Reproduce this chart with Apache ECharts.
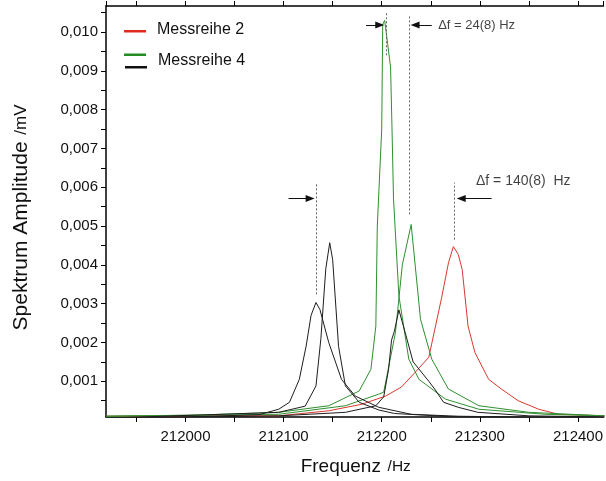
<!DOCTYPE html>
<html>
<head>
<meta charset="utf-8">
<script src="https://cdn.jsdelivr.net/npm/echarts@6/dist/echarts.min.js"></script>
<style>
html,body{margin:0;padding:0;background:#fff;}
#c{width:606px;height:481px;}
</style>
</head>
<body>
<div id="c"></div>
<script>
// ---- data (Frequenz /Hz, Spektrum Amplitude /mV) ----
const messreihe2 = [
  [211919,0.00010],[212014,0.00011],[212095,0.00011],[212146,0.00024],[212180,0.00041],
  [212204,0.00062],[212220,0.00085],[212234,0.00123],[212248,0.00162],[212261,0.00315],
  [212268,0.00405],[212273,0.00447],[212278,0.00427],[212282,0.00388],[212288,0.00242],
  [212295,0.00174],[212309,0.00105],[212322,0.00080],[212339,0.00050],[212360,0.00028],
  [212380,0.00015],[212427,0.00011]
];
const gruen1 = [
  [211919,0.00010],[212014,0.00013],[212095,0.00020],[212146,0.00037],[212160,0.00054],
  [212177,0.00075],[212189,0.00131],[212194,0.00242],[212195.5,0.00500],[212200,0.00750],
  [212201,0.01020],[212203,0.01030],[212206,0.00970],[212209,0.00910],[212210.5,0.00750],
  [212212,0.00570],[212217.5,0.00320],[212227.6,0.00157],[212238,0.00105],[212265,0.00054],
  [212299,0.00028],[212367,0.00015],[212427,0.00011]
];
const gruen2 = [
  [211919,0.00010],[212095,0.00015],[212163,0.00037],[212197,0.00067],[212202,0.00072],
  [212214,0.00226],[212221,0.00400],[212230,0.00504],[212239.5,0.00260],[212251,0.00157],
  [212268,0.00080],[212299,0.00037],[212350,0.00020],[212427,0.00011]
];
const schwarz1 = [
  [211919,0.00005],[212000,0.00008],[212075,0.00014],[212095,0.00028],[212106,0.00046],
  [212116,0.00105],[212123,0.00191],[212128,0.00270],[212133,0.00303],[212137,0.00285],
  [212146,0.00200],[212159,0.00105],[212173,0.00062],[212197,0.00033],[212230,0.00015],
  [212278,0.00010],[212427,0.00005]
];
const schwarz2 = [
  [211919,0.00005],[212095,0.00020],[212122,0.00036],[212133,0.00088],[212138,0.00210],
  [212143,0.00390],[212147,0.00457],[212150,0.00413],[212156,0.00190],[212163,0.00088],
  [212177,0.00046],[212197,0.00026],[212213,0.00017],[212278,0.00008],[212427,0.00005]
];
const schwarz3 = [
  [211919,0.00005],[212095,0.00011],[212163,0.00020],[212194,0.00037],[212202,0.00060],
  [212207,0.00131],[212210,0.00206],[212213,0.00230],[212217.5,0.00284],[212222,0.00243],
  [212232,0.00150],[212248,0.00100],[212254,0.00080],[212263,0.00046],[212278,0.00033],
  [212298,0.00020],[212350,0.00011],[212427,0.00008]
];
const legendNames = ['Messreihe 2', 'Messreihe 4'];
// annotation geometry in data units
const dottedLines = [
  [[212133.4,0.00324],[212133.4,0.00612]],
  [[212274,0.00465],[212274,0.00612]],
  [[212204.5,0.00940],[212204.5,0.01050]],
  [[212228,0.00530],[212228,0.01044]]
];
const arrows = [
  [[212105,0.00571],[212127,0.00571]],
  [[212312,0.00571],[212281,0.00571]],
  [[212184,0.01018],[212198,0.01018]],
  [[212251,0.01018],[212234,0.01018]]
];
const annoTexts = [
  {value:[212257,0.01018], text:'\u0394f = 24(8) Hz', size:13},
  {value:[212295.5,0.00615], text:'\u0394f = 140(8)  Hz', size:14}
];
const xRange = [211919, 212426];
const yRange = [0.00008, 0.01067];

const FONT = '"Liberation Sans", Arial, sans-serif';
const RED = '#d8392f', GREEN = '#2f8f2f', BLACK = '#1e1e1e';

const chart = echarts.init(document.getElementById('c'), null, {renderer:'canvas'});

function isMult(v, step){ return Math.abs(v/step - Math.round(v/step)) < 1e-6; }

function lineSeries(name, data, color){
  return {
    name: name, type:'line', data: data, showSymbol:false, symbol:'none',
    lineStyle:{color: color, width:1}, itemStyle:{color: color},
    animation:false, silent:true, z:3
  };
}

const series = [
  lineSeries('Messreihe 2', messreihe2, RED),
  lineSeries('Messreihe 4a', gruen1, GREEN),
  lineSeries('Messreihe 4b', gruen2, GREEN),
  lineSeries('k1', schwarz1, BLACK),
  lineSeries('k2', schwarz2, BLACK),
  lineSeries('k3', schwarz3, BLACK),
  {
    type:'line', data:[], silent:true, animation:false,
    markLine:{
      silent:true, animation:false, symbol:['none','none'],
      label:{show:false},
      lineStyle:{color:'#666', width:1, type:[2,2]},
      data: dottedLines.map(l => [{coord:l[0]},{coord:l[1]}])
    }
  },
  {
    type:'line', data:[], silent:true, animation:false,
    markLine:{
      silent:true, animation:false, symbol:['none','triangle'], symbolSize:[7,9],
      label:{show:false},
      lineStyle:{color:'#111', width:1, type:'solid'},
      data: arrows.map(l => [{coord:l[0]},{coord:l[1]}])
    }
  },
  {
    type:'scatter', symbolSize:1, silent:true, animation:false,
    itemStyle:{color:'rgba(0,0,0,0)'},
    data: annoTexts.map(a => ({
      value:a.value,
      label:{show:true, position:'right', distance:0, formatter:a.text,
        fontSize:a.size, fontFamily:FONT, color:'#111'}
    }))
  }
];

const axisCommon = {
  axisLine:{show:true, onZero:false, lineStyle:{color:'#000', width:1.5}},
  axisTick:{show:true, inside:false, length:5, lineStyle:{color:'#000', width:1}, interval:0},
  splitLine:{show:false}
};

chart.setOption({
  animation:false,
  backgroundColor:'#fff',
  textStyle:{fontFamily:FONT},
  grid:{left:106, right:0, top:6, bottom:63, containLabel:false},
  xAxis:[
    Object.assign({}, axisCommon, {
      type:'value', min:xRange[0], max:xRange[1], splitNumber:10,
      axisLabel:{show:true, interval:0, showMinLabel:false, showMaxLabel:false, hideOverlap:false,
        margin:12, fontSize:15, fontFamily:FONT, color:'#111',
        formatter: v => isMult(v,100) ? String(Math.round(v)) : ''},
      name:'{a|Frequenz}  {b|/Hz}', nameLocation:'middle', nameGap:40,
      nameTextStyle:{padding:[0,0,0,2], rich:{a:{fontSize:19, fontFamily:FONT, color:'#111'}, b:{fontSize:15.5, fontFamily:FONT, color:'#111'}}}
    }),
    Object.assign({}, axisCommon, {
      type:'value', position:'top', min:xRange[0], max:xRange[1], splitNumber:10,
      axisLabel:{show:false}
    })
  ],
  yAxis:[
    Object.assign({}, axisCommon, {
      type:'value', min:yRange[0], max:yRange[1], splitNumber:21,
      axisLabel:{show:true, interval:0, showMinLabel:false, showMaxLabel:false, hideOverlap:false,
        margin:8, fontSize:15, fontFamily:FONT, color:'#111',
        formatter: v => isMult(v,0.001) && v > 0.0005 ? v.toFixed(3).replace('.', ',') : ''},
      name:'{a|Spektrum Amplitude}  {b|/mV}', nameLocation:'middle', nameGap:74,
      nameTextStyle:{padding:[0,12,0,0], rich:{a:{fontSize:21, fontFamily:FONT, color:'#111'}, b:{fontSize:17, fontFamily:FONT, color:'#111'}}}
    })
  ],
  series: series,
  graphic:[
    {type:'rect', left:124, top:30, shape:{width:22, height:2.5}, style:{fill:'#e02a20'}, silent:true},
    {type:'text', left:157, top:22, style:{text:legendNames[0], font:'16px ' + FONT, fill:'#111'}, silent:true},
    {type:'rect', left:124, top:53.5, shape:{width:22, height:2.5}, style:{fill:'#238b23'}, silent:true},
    {type:'rect', left:125, top:66, shape:{width:22, height:2.5}, style:{fill:'#111'}, silent:true},
    {type:'text', left:158, top:53, style:{text:legendNames[1], font:'16px ' + FONT, fill:'#111'}, silent:true}
  ]
});
</script>
</body>
</html>
